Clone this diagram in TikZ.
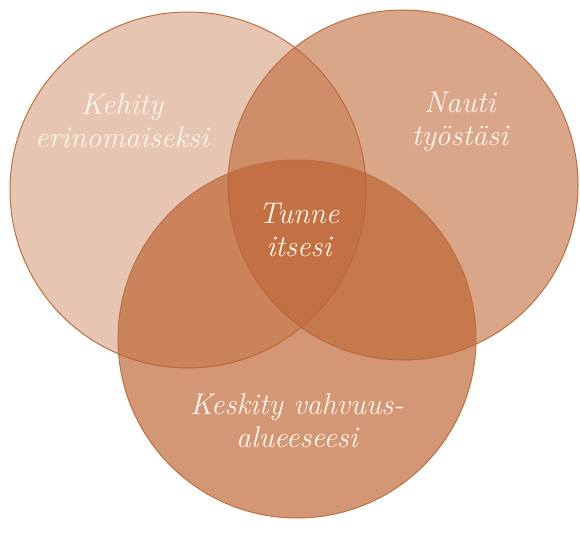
\documentclass[tikz,border=0pt]{standalone}
\definecolor{base}{RGB}{190,100,50}
\definecolor{edge}{RGB}{188,112,68}
\definecolor{txt}{RGB}{253,245,234}
\begin{document}
\begin{tikzpicture}[x=1bp,y=-1bp,
  ring/.style={draw=edge,line width=1bp,fill=base},
  lbl/.style={text=txt,font=\fontsize{30}{33}\selectfont\itshape,align=center,inner sep=0pt}]
\useasboundingbox (0,0) rectangle (580,533);
\fill[white] (0,0) rectangle (580,533);
\coordinate (cA) at (188,190);
\coordinate (cB) at (403,185);
\coordinate (cC) at (297,339);
\draw[ring,fill opacity=0.37] (cA) circle[radius=178];
\draw[ring,fill opacity=0.57] (cB) circle[radius=175];
\draw[ring,fill opacity=0.67] (cC) circle[radius=179];
\node[lbl] (tA) at (122,121) {Kehity\\erinomaiseksi};
\node[lbl] (tB) at (460,122) {Nauti\\työstäsi};
\node[lbl] (tM) at (299,230) {Tunne\\itsesi};
\node[lbl] (tC) at (297,421) {Keskity vahvuus-\\alueeseesi};
\end{tikzpicture}
\end{document}
